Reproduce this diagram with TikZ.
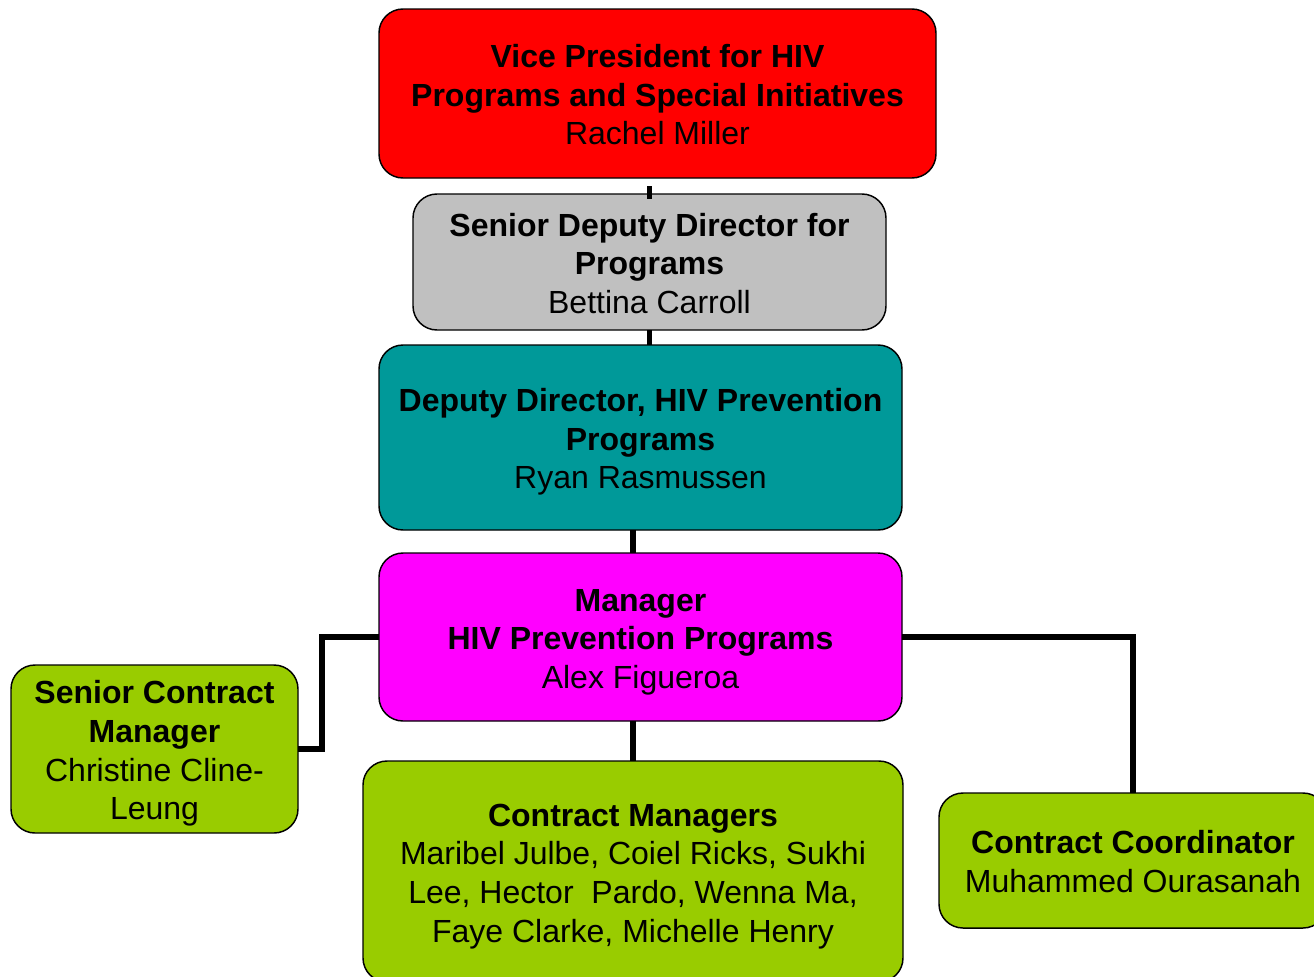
\documentclass[tikz,border=0pt]{standalone}
\usepackage{fontspec}
\setmainfont{Liberation Sans}
\definecolor{vpred}{HTML}{FF0000}
\definecolor{sddgray}{HTML}{C0C0C0}
\definecolor{ddteal}{HTML}{009999}
\definecolor{mgrmag}{HTML}{FF00FF}
\definecolor{cmgreen}{HTML}{99CC00}
\newcommand{\topgap}{\rule{0pt}{24.5pt}}
\newcommand{\botgap}{\rule[-5.5pt]{0pt}{5.5pt}}
\tikzset{
  orgbox/.style={draw=black, line width=1.1pt, rounded corners=18pt, inner sep=0pt, outer sep=0pt,
    align=center, font=\fontsize{24pt}{29pt}\selectfont, text=black},
  conn/.style={draw=black, line width=4.3pt}
}
\begin{document}
\begin{tikzpicture}[x=0.75pt,y=-0.75pt]
\useasboundingbox (0,0) rectangle (1314,976);
\clip (0,0) rectangle (1314,976);
\fill[white] (0,0) rectangle (1314,976);
\coordinate (vpstub) at (649.5,186);
\node[orgbox, fill=vpred, minimum width=417.75pt, minimum height=126.75pt] (vp) at (657.5,93.5)
  {\topgap\textbf{Vice President for HIV}\\\textbf{Programs and Special Initiatives}\\Rachel Miller\botgap};
\node[orgbox, fill=sddgray, minimum width=354.75pt, minimum height=102pt] (sdd) at (649.5,262)
  {\topgap\textbf{Senior Deputy Director for}\\\textbf{Programs}\\Bettina Carroll\botgap};
\node[orgbox, fill=ddteal, minimum width=392.25pt, minimum height=138.75pt] (dd) at (640.5,437.5)
  {\topgap\textbf{Deputy Director, HIV Prevention}\\\textbf{Programs}\\Ryan Rasmussen\botgap};
\node[orgbox, fill=mgrmag, minimum width=392.25pt, minimum height=126pt] (mgr) at (640.5,637)
  {\topgap\textbf{Manager}\\\textbf{HIV Prevention Programs}\\Alex Figueroa\botgap};
\node[orgbox, fill=cmgreen, minimum width=215.25pt, minimum height=126pt] (scm) at (154.5,749)
  {\topgap\textbf{Senior Contract}\\\textbf{Manager}\\Christine Cline-\\Leung\botgap};
\node[orgbox, fill=cmgreen, minimum width=405pt, minimum height=165.75pt] (cm) at (633,871.5)
  {\topgap\textbf{Contract Managers}\\Maribel Julbe, Coiel Ricks, Sukhi\\Lee, Hector\ \ Pardo, Wenna Ma,\\Faye Clarke, Michelle Henry\botgap};
\node[orgbox, fill=cmgreen, minimum width=291pt, minimum height=101.25pt] (cc) at (1133,860.5)
  {\topgap\textbf{Contract Coordinator}\\Muhammed Ourasanah\botgap};
\draw[conn] (vpstub) -- ([yshift=-3.75pt]sdd.north);
\draw[conn] (sdd.south) -- (dd.north -| sdd.south);
\draw[conn] (dd.south -| cm.north) -- (mgr.north -| cm.north);
\draw[conn] (mgr.south -| cm.north) -- (cm.north);
\draw[conn] (mgr.west) -- ++(-57,0) |- (scm.east);
\draw[conn] (mgr.east) -| (cc.north);
\end{tikzpicture}
\end{document}
